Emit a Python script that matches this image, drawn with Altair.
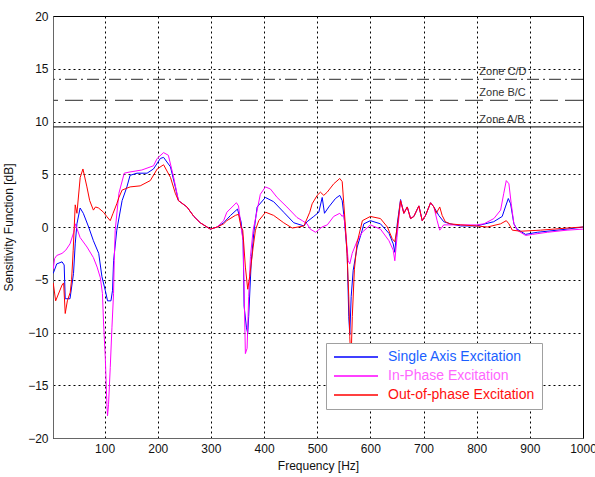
import altair as alt
import pandas as pd

# ---- data ----
series_names = ["Single Axis Excitation", "In-Phase Excitation", "Out-of-phase Excitation"]
series_colors = ["#0000ff", "#ff00ff", "#ff0000"]
label_colors = ["#1a5fff", "#ff66ff", "#ff1010"]

f_single = [3.4, 10, 20, 24, 26, 35, 41.6, 44.8, 48, 54, 60, 70, 79, 89, 95, 101.3, 105.6, 112, 115, 117,
            123, 133, 142, 148, 161, 180, 192, 205, 211, 224, 233, 239, 255, 268, 280, 299, 312, 324,
            337, 350, 356.8, 360.6, 362.5, 366.8, 369.3, 371.1, 375.7, 380.6, 387, 402.6, 418, 437, 456,
            475, 481, 493.5, 503, 509.4, 513.7, 521.8, 534.4, 542.5, 547, 551.3, 556.4, 559.4, 561.3,
            563.9, 567.7, 575.2, 584.7, 587.7, 600, 619, 635, 643, 646, 650.6, 656.8, 663, 669.4, 675.6,
            681.8, 691.2, 697.6, 703.8, 713.3, 719.5, 728.6, 738, 750, 770, 800, 832, 848, 854, 859.5,
            863.8, 870, 876, 892, 914, 970, 1000]
v_single = [-4.4, -3.5, -3.3, -3.6, -6.8, -6.8, -4.4, -1.6, 0.3, 1.8, 1.3, 0.0, -1.3, -2.5, -4.7, -6.0, -7.0, -7.0, -6.0, -3.2,
            -0.3, 2.5, 3.8, 4.9, 5.1, 5.1, 5.5, 6.5, 6.6, 5.7, 3.8, 2.5, 1.9, 1.0, 0.4, -0.2, 0.0, 0.4,
            1.1, 1.7, 0.5, -1.3, -7.5, -9.5, -10.1, -8.5, -3.5, -0.6, 1.9, 2.8, 2.4, 1.4, 0.4,
            0.1, 0.5, 1.0, 1.4, 2.8, 1.3, 1.9, 2.7, 3.0, 2.5, 0.6, -2.5, -8.5, -10.2,
            -6.6, -4.1, -1.9, -0.3, 0.3, 0.6, 0.3, -0.6, -1.6, -2.4, 0.3, 2.6, 1.3, 1.9, 0.8,
            1.0, 2.0, 0.6, 1.1, 2.3, 1.9, 1.1, 0.5, 0.3, 0.1, 0.1, 0.5, 1.0, 1.9, 2.7,
            2.2, 0.3, -0.2, -0.7, -0.5, -0.2, 0.0]

f_inphase = [3.4, 6, 10, 20, 27, 35, 42, 45, 54, 67, 79, 86, 92, 96, 98, 101.3, 104.5, 105.6, 107.5, 110.7,
             113.9, 116.9, 118.2, 120, 127, 137, 146, 170, 192, 199, 211, 220, 230, 239, 255, 268, 280,
             299, 312, 324, 330, 348, 352, 356.8, 360.6, 364.9, 368.1, 371.1, 374.4, 379.5, 393, 402.6,
             412, 424.6, 443, 462, 472, 481, 487, 497, 509, 519, 531, 542.5, 547, 550, 554.5, 558.3,
             561.3, 565.8, 575.2, 584.7, 600, 619, 635, 643, 646, 650, 656.8, 663, 669.4, 675.6, 681.8,
             691.2, 697.6, 703.8, 713.3, 719.5, 725.6, 730.5, 738, 750, 800, 813.6, 832.4, 845, 851,
             855.7, 860.6, 865, 870, 876, 892, 905, 933, 970, 1000]
v_inphase = [-4.0, -3.0, -2.7, -2.5, -2.2, -1.6, -0.5, 0.3, -1.0, -1.9, -2.9, -3.8, -4.8, -6.3, -9.0, -12.3, -17.0, -17.9, -16.8, -13.3,
             -9.5, -6.3, -3.2, -0.3, 3.2, 5.1, 5.2, 5.4, 5.8, 6.5, 7.05, 6.8, 4.7, 2.5, 1.9, 1.0, 0.4,
             -0.2, 0.0, 0.6, 1.4, 2.3, 2.0, 0.0, -1.3, -12.0, -11.5, -6.6, -2.8, -0.3, 3.1, 3.8,
             3.6, 2.8, 1.9, 0.9, 0.6, 0.3, -0.2, -0.5, 0.0, 0.2, 1.0, 1.3, 1.0, 1.2, -1.0, -3.2,
             -3.5, -2.5, -1.3, -0.5, 0.2, -0.2, -1.3, -2.2, -3.2, -1.0, 2.5, 1.3, 1.9, 0.8, 1.0,
             2.0, 0.6, 1.1, 2.3, 1.9, 0.6, -0.3, 0.2, 0.2, 0.2, 0.3, 0.8, 1.6, 3.2,
             4.4, 4.1, 2.2, 0.3, -0.3, -0.8, -0.7, -0.5, -0.3, -0.2]

f_outphase = [3.4, 8, 20, 23, 26, 30, 35.4, 38, 41, 44.8, 48, 54.2, 59.3, 66.8, 72, 79, 83, 88.7, 98, 104,
              110.7, 116, 123, 127, 133, 148, 167, 186, 199, 211, 224, 233, 239, 255, 268, 280, 299, 312,
              324, 330, 346, 352, 356.8, 360, 364.9, 369.3, 373, 379.5, 383.8, 390, 403, 418, 437, 453,
              475, 486, 490.5, 500, 506, 512.4, 518.8, 531.2, 542.5, 547, 550, 553.2, 556.4, 559.4,
              561.3, 563.5, 566, 570, 575, 585, 600, 619, 632, 641, 646, 650.6, 656.8, 663, 669.4,
              675.6, 681.8, 691.2, 697.6, 703.8, 713.3, 719.5, 724, 730.5, 735, 741, 750, 770, 800,
              820, 845, 855.7, 860.6, 867, 882.6, 920, 970, 1000]
v_outphase = [-5.3, -7.0, -5.5, -5.3, -8.2, -7.0, -6.2, -5.0, -2.2, 2.1, 1.3, 4.7, 5.5, 3.8, 2.5, 1.6, 1.9, 1.8, 1.4, 1.0,
              0.6, 1.3, 2.2, 2.8, 3.5, 3.8, 3.9, 4.4, 5.5, 5.9, 4.7, 3.2, 2.5, 1.9, 1.0, 0.4, -0.2, 0.0,
              0.3, 0.6, 1.1, 1.2, 0.0, -0.3, -3.8, -5.9, -4.7, -1.9, -0.3, 0.6, 1.4, 1.1, 0.4, -0.1,
              0.1, 1.4, 2.2, 3.0, 3.3, 3.0, 3.3, 4.1, 4.6, 4.3, 2.2, 0.0, -2.8, -6.6,
              -10.4, -13.0, -8.5, -4.0, -1.5, 0.6, 1.0, 0.8, 0.0, -1.1, -1.4, 0.0, 2.5, 1.3, 1.9,
              0.8, 1.0, 2.0, 0.6, 1.1, 2.3, 1.9, 1.3, 1.9, 1.1, 0.5, 0.3, 0.2, 0.1,
              0.0, 0.3, 0.6, 0.3, -0.3, -0.4, -0.3, -0.1, 0.0]

zone_levels = [9.5, 12, 14]
zone_labels = ["Zone A/B", "Zone B/C", "Zone C/D"]
zone_label_x = 805

x_ticks = [100, 200, 300, 400, 500, 600, 700, 800, 900, 1000]
y_ticks = [-20, -15, -10, -5, 0, 5, 10, 15, 20]

# ---- build tables ----
rows = []
for name, fs, vs in zip(series_names, [f_single, f_inphase, f_outphase], [v_single, v_inphase, v_outphase]):
    for i, (f, v) in enumerate(zip(fs, vs)):
        rows.append({"series": name, "f": f, "v": v, "i": i})
df = pd.DataFrame(rows)
zones = pd.DataFrame({"level": zone_levels, "label": zone_labels, "x": [zone_label_x] * 3})

FONT = "Liberation Sans"

xscale = alt.Scale(domain=[3, 1000], nice=False, zero=False)
yscale = alt.Scale(domain=[-20, 20], nice=False, zero=False)

label_expr = (
    f"datum.label === '{series_names[0]}' ? '{label_colors[0]}' : "
    f"datum.label === '{series_names[1]}' ? '{label_colors[1]}' : '{label_colors[2]}'"
)

lines = alt.Chart(df).mark_line(strokeWidth=1, clip=True).encode(
    x=alt.X("f:Q", scale=xscale,
            axis=alt.Axis(values=x_ticks, format="d", title="Frequency [Hz]", grid=True, gridDash=[2, 3],
                          gridColor="black", gridOpacity=1, ticks=False, labelPadding=5,
                          titlePadding=6, labelOverlap=False, labelFlush=False)),
    y=alt.Y("v:Q", scale=yscale,
            axis=alt.Axis(values=y_ticks, format="d", title="Sensitivity Function [dB]", grid=True,
                          gridDash=[2, 3], gridColor="black", gridOpacity=1, ticks=False, labelPadding=5,
                          titlePadding=12, labelOverlap=False, labelFlush=False)),
    color=alt.Color("series:N",
                    scale=alt.Scale(domain=series_names, range=series_colors),
                    legend=alt.Legend(orient="none", legendX=273, legendY=327, title=None,
                                      fillColor="white", strokeColor="#a0a0a0", padding=7,
                                      labelFontSize=14, labelFont=FONT, symbolType="stroke",
                                      symbolSize=1936, symbolStrokeWidth=1.5, clipHeight=14,
                                      rowPadding=5, labelOffset=9,
                                      labelColor={"expr": label_expr})),
    order="i:Q",
    detail="series:N",
)

ab = alt.Chart(zones[zones.label == "Zone A/B"]).mark_rule(color="#333333", strokeWidth=1.2).encode(
    y=alt.Y("level:Q", scale=yscale))
bc = alt.Chart(zones[zones.label == "Zone B/C"]).mark_rule(color="#555555", strokeWidth=1.2,
                                                          strokeDash=[18, 7]).encode(
    y=alt.Y("level:Q", scale=yscale))
cd = alt.Chart(zones[zones.label == "Zone C/D"]).mark_rule(color="#555555", strokeWidth=1.2,
                                                          strokeDash=[12, 4, 2, 4]).encode(
    y=alt.Y("level:Q", scale=yscale))
ztext = alt.Chart(zones).mark_text(align="left", baseline="alphabetic", dy=-4, fontSize=11,
                                   font=FONT, color="#333333").encode(
    x=alt.X("x:Q", scale=xscale), y=alt.Y("level:Q", scale=yscale), text="label:N")

chart = alt.layer(ab, bc, cd, ztext, lines).properties(
    width=530, height=422,
    autosize=alt.AutoSizeParams(type="none"),
    padding={"left": 53, "top": 16, "right": 12, "bottom": 39},
).configure_view(stroke="black", strokeWidth=1).configure_axis(
    labelFont=FONT, titleFont=FONT, labelFontSize=12, titleFontSize=12,
    titleFontWeight="normal", labelColor="#111111", titleColor="#111111", domainColor="#666666",
)

chart.save("out.html", embed_options={"renderer": "svg", "actions": False})
